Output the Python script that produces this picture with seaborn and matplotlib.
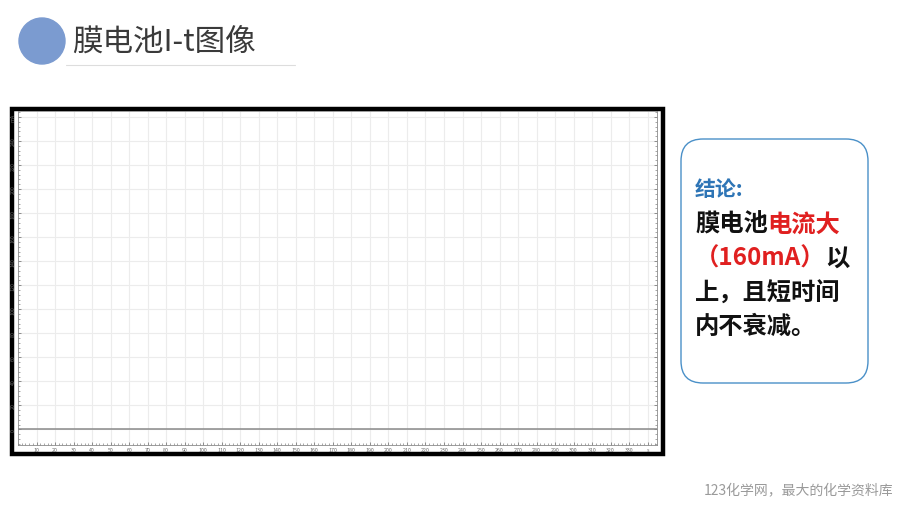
import matplotlib
matplotlib.use("Agg")
import matplotlib.pyplot as plt
import seaborn as sns
import pandas as pd
from matplotlib.patches import Circle, FancyBboxPatch, Rectangle
from matplotlib.ticker import MultipleLocator

# data
time_s = [0, 345]
current_ma = [0, 0]
y_ticks = [0, 20, 40, 60, 80, 100, 120, 140, 160, 180, 200, 220, 240, 260]
y_labels = ["0", "20", "40", "60", "80", "100", "120", "140", "160", "180", "200", "220", "240", "mA"]
x_ticks = [10, 20, 30, 40, 50, 60, 70, 80, 90, 100, 110, 120, 130, 140, 150, 160, 170,
           180, 190, 200, 210, 220, 230, 240, 250, 260, 270, 280, 290, 300, 310, 320, 330, 340]
x_labels = [str(v) for v in x_ticks[:-1]] + ["s"]

title = "膜电池I-t图像"
footer = "123化学网，最大的化学资料库"

sns.set_theme(style="white")
plt.rcParams['font.family'] = ['Noto Sans CJK SC', 'DejaVu Sans']

W, H = 900, 506
fig = plt.figure(figsize=(9, 5.06), dpi=100)

# overlay in pixel coords
bg = fig.add_axes([0, 0, 1, 1])
bg.set_xlim(0, W)
bg.set_ylim(H, 0)
bg.axis("off")

# plot area
ax = fig.add_axes([18 / W, 1 - 446 / H, (657 - 18) / W, (446 - 112) / H])
df = pd.DataFrame({"t": time_s, "I": current_ma})
sns.lineplot(data=df, x="t", y="I", ax=ax, color="#8a8a8a", linewidth=1.1)
ax.set_xlim(0, 345)
ax.set_ylim(-13, 265)
ax.set_xticks(x_ticks)
ax.set_xticklabels(x_labels)
ax.set_yticks(y_ticks)
ax.set_yticklabels(y_labels, rotation=90, va="center")
ax.xaxis.set_minor_locator(MultipleLocator(2))
ax.yaxis.set_minor_locator(MultipleLocator(4))
ax.set_xlabel("")
ax.set_ylabel("")
ax.tick_params(axis="both", which="both", direction="in", colors="#666666",
               labelsize=3.8, pad=1.5, top=False, right=True, left=True, bottom=True)
ax.tick_params(which="major", length=2.5, width=0.5)
ax.tick_params(which="minor", length=1.5, width=0.4)
ax.grid(True, which="major", color="#ececec", linewidth=0.8)
for s in ax.spines.values():
    s.set_color("#8a8a8a")
    s.set_linewidth(0.6)

# thick black frame round the chart
bg.add_patch(Rectangle((12, 110), 651, 345, fill=False, ec="black", lw=3.2, zorder=0))

# title
bg.add_patch(Circle((42, 42), 23, color="#7b9bd0", zorder=2))
bg.text(72, 43, title, fontsize=22, color="#3a3a3a", va="center", ha="left",
        fontweight="medium")
bg.plot([66, 295], [66, 66], color="#dddddd", lw=0.8)

# conclusion box
bg.add_patch(FancyBboxPatch((681, 140), 187, 244, boxstyle="round,pad=0,rounding_size=22",
                            fc="white", ec="#4a90c8", lw=1.0))
fs = 17.5
bg.text(695, 189, "结论:", fontsize=15, color="#2e75b6", fontweight="bold", va="center")


def colored_line(y, parts):
    t = bg.text(695, y, parts[0][0], fontsize=fs, color=parts[0][1], fontweight="bold",
                va="center", ha="left")
    for txt, col in parts[1:]:
        t = bg.annotate(txt, xycoords=t, xy=(1, 0), va="bottom", ha="left",
                        fontsize=fs, color=col, fontweight="bold")


black = "#111111"
red = "#e02020"
colored_line(225, [("膜电池", black), ("电流大", red)])
colored_line(259, [("（160mA）", red), ("以", black)])
colored_line(294, [("上，且短时间", black)])
colored_line(327, [("内不衰减。", black)])

# footer
bg.text(893, 491, footer, fontsize=10, color="#9a9a9a", ha="right", va="center")

fig.savefig("out.png", dpi=100)
